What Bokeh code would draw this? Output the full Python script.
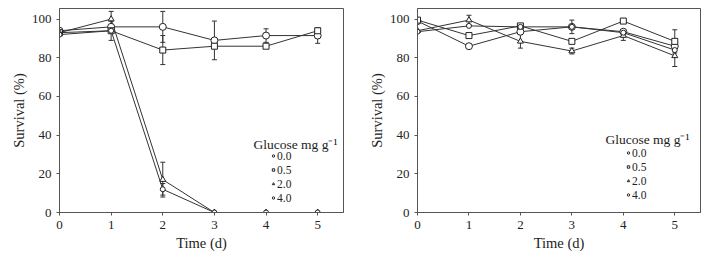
from bokeh.plotting import figure
from bokeh.layouts import row
from bokeh.models import ColumnDataSource, Whisker, TeeHead, Legend, LegendItem, Label, Range1d, FixedTicker
from bokeh.embed import file_html
from bokeh.resources import INLINE

days = [0, 1, 2, 3, 4, 5]
labels = ["0.0", "0.5", "2.0", "4.0"]
x_ticks = [0, 1, 2, 3, 4, 5]
y_ticks = [0, 20, 40, 60, 80, 100]

# Left panel
A_00 = [94, 96, 96, 89, 91.5, 91.5]
A_05 = [93, 94, 84, 86, 86, 94]
A_20 = [93, 100, 17, 0, 0, 0]
A_40 = [92, 94, 12, 0, 0, 0]
A_00_err = [0, 0, 8, 10, 3.5, 4]
A_05_err = [0, 5, 7.5, 0, 0, 0]
A_20_err = [0, 4, 9, 0, 0, 0]
A_40_err = [0, 0, 3, 0, 0, 0]

# Right panel
B_00 = [99, 86, 93.5, 96, 93.5, 86]
B_05 = [99.5, 91.5, 96.5, 88.5, 99, 88.5]
B_20 = [94, 99.5, 88.5, 83.5, 91.5, 81]
B_40 = [93.5, 96.5, 96, 96, 93, 84]
B_00_err = [0, 0, 0, 3.5, 0, 0]
B_05_err = [0, 0, 0, 0, 0, 6]
B_20_err = [0, 2.5, 3.5, 1.5, 2.5, 5.5]
B_40_err = [0, 0, 0, 0, 0, 0]

FONT = "Liberation Serif"
LINE = "#333333"
markers = [("circle", 7), ("square", 6), ("triangle", 6), ("circle", 5)]


def make_panel(series, errs, width, bl, br, bt, bb, leg_loc, title_xy):
    p = figure(width=width, height=258, output_backend="svg", toolbar_location=None,
               x_range=Range1d(0, 5.5), y_range=Range1d(0, 105.5),
               min_border_left=bl, min_border_right=br, min_border_top=bt, min_border_bottom=bb)
    p.grid.visible = False
    p.outline_line_color = "#555555"
    p.background_fill_color = "white"
    for ax in (p.xaxis[0], p.yaxis[0]):
        ax.axis_line_color = "#555555"
        ax.major_tick_line_color = "#555555"
        ax.major_tick_out = 3
        ax.major_tick_in = 0
        ax.minor_tick_line_color = None
        ax.major_label_text_font = FONT
        ax.major_label_text_font_size = "13px"
        ax.major_label_text_color = "#222222"
        ax.axis_label_text_font = FONT
        ax.axis_label_text_font_size = "14.5px"
        ax.axis_label_text_font_style = "normal"
        ax.axis_label_text_color = "#222222"
    p.xaxis.ticker = FixedTicker(ticks=x_ticks)
    p.yaxis.ticker = FixedTicker(ticks=y_ticks)
    p.xaxis.axis_label = "Time (d)"
    p.yaxis.axis_label = "Survival (%)"
    p.xaxis.major_label_standoff = 5
    p.yaxis.major_label_standoff = 5
    p.xaxis.axis_label_standoff = 3
    p.yaxis.axis_label_standoff = 2

    items = []
    for (vals, err, lab, (mk, sz)) in zip(series, errs, labels, markers):
        p.line(days, vals, line_color=LINE, line_width=1)
        ex = [d for d, e in zip(days, err) if e > 0]
        lo = [v - e for v, e in zip(vals, err) if e > 0]
        up = [v + e for v, e in zip(vals, err) if e > 0]
        if ex:
            src = ColumnDataSource(dict(x=ex, lo=lo, up=up))
            w = Whisker(base="x", lower="lo", upper="up", source=src,
                        line_color=LINE, line_width=1,
                        upper_head=TeeHead(size=5, line_color=LINE, line_width=1),
                        lower_head=TeeHead(size=5, line_color=LINE, line_width=1))
            p.add_layout(w)
    for (vals, lab, (mk, sz)) in zip(series, labels, markers):
        r = p.scatter(days, vals, marker=mk, size=sz, line_color="#222222",
                      fill_color="white", line_width=1)
        items.append(LegendItem(label=lab, renderers=[r]))
    leg = Legend(items=items, location=leg_loc, padding=0, margin=0, spacing=1,
                 glyph_width=6, glyph_height=13, label_height=13, label_standoff=1,
                 background_fill_alpha=0, border_line_color=None,
                 label_text_font=FONT, label_text_font_size="11.5px",
                 label_text_line_height=1.0,
                 label_text_color="#222222")
    p.add_layout(leg)
    p.add_layout(Label(x=title_xy[0], y=title_xy[1], text="Glucose mg g\u207b\u00b9",
                       text_align="center", text_baseline="middle", text_font=FONT,
                       text_font_size="13.5px", text_color="#222222"))
    return p


p1 = make_panel([A_00, A_05, A_20, A_40], [A_00_err, A_05_err, A_20_err, A_40_err],
                355, 59, 12, 7, 46, (211, 8), (4.57, 35.2))
p2 = make_panel([B_00, B_05, B_20, B_40], [B_00_err, B_05_err, B_20_err, B_40_err],
                356, 62, 11, 8, 45, (208, 11), (4.47, 37.5))

layout = row(p1, p2)
open("out.html", "w").write(file_html(layout, INLINE))
